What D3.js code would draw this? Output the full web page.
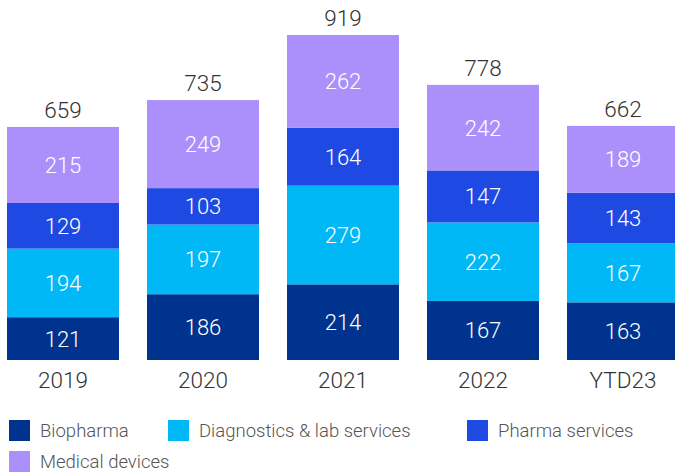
<!DOCTYPE html>
<html><head><meta charset="utf-8">
<script src="https://cdn.jsdelivr.net/npm/d3@7"></script>
<style>html,body{margin:0;padding:0;background:#fff;}svg{display:block;font-family:Roboto,"Liberation Sans",Arial,sans-serif;font-weight:300;}</style>
</head><body>
<svg id="c" width="675" height="475"></svg>
<script>
const categories = ["2019","2020","2021","2022","YTD23"];
const seriesNames = ["Biopharma","Diagnostics & lab services","Pharma services","Medical devices"];
const biopharma = [121,186,214,167,163];
const diagnostics = [194,197,279,222,167];
const pharmaServices = [129,103,164,147,143];
const medicalDevices = [215,249,262,242,189];
const totals = [659,735,919,778,662];
const colors = ["#00338D","#00B8F5","#1E49E2","#AB8FFB"];

const svg = d3.select("#c");
const rows = categories.map((c,i)=>({cat:c, "Biopharma":biopharma[i], "Diagnostics & lab services":diagnostics[i], "Pharma services":pharmaServices[i], "Medical devices":medicalDevices[i], total:totals[i]}));
const stack = d3.stack().keys(seriesNames)(rows);

const x = d3.scaleBand().domain(categories).range([-7,693]).paddingInner(0.2).paddingOuter(0.1);
const y = d3.scaleLinear().domain([0,919]).range([360,35]);
const color = d3.scaleOrdinal().domain(seriesNames).range(colors);

const g = svg.append("g");
stack.forEach(layer=>{
  const lg = g.append("g");
  lg.selectAll("rect").data(layer).join("rect")
    .attr("x",d=>x(d.data.cat)).attr("width",x.bandwidth())
    .attr("y",d=>y(d[1])).attr("height",d=>y(d[0])-y(d[1]))
    .attr("fill",color(layer.key));
  lg.selectAll("text").data(layer).join("text")
    .attr("x",d=>x(d.data.cat)+x.bandwidth()/2)
    .attr("y",d=>(y(d[0])+y(d[1]))/2)
    .attr("dy","0.36em").attr("text-anchor","middle")
    .attr("fill","#fff").attr("font-size",22)
    .text(d=>d[1]-d[0]);
});
g.selectAll(".tot").data(rows).join("text").attr("class","tot")
  .attr("x",d=>x(d.cat)+x.bandwidth()/2).attr("y",d=>y(d.total)-9)
  .attr("text-anchor","middle").attr("fill","#333").attr("font-size",22.5)
  .text(d=>d.total);

const ax = svg.append("g").attr("transform","translate(0,360)")
  .call(d3.axisBottom(x).tickSize(0).tickPadding(12));
ax.attr("font-family",null).attr("font-size",null);
ax.select(".domain").remove();
ax.selectAll("text").attr("font-size",22.5).attr("fill","#333");

const legendPos = [[9,420],[168,420],[467,420],[9,451]];
const lg = svg.append("g");
seriesNames.forEach((s,i)=>{
  const [lx,ly]=legendPos[i];
  lg.append("rect").attr("x",lx).attr("y",ly).attr("width",21).attr("height",21).attr("fill",colors[i]);
  lg.append("text").attr("x",lx+31).attr("y",ly+10.5).attr("dy","0.36em")
    .attr("font-size",18.5).attr("fill","#555").text(s);
});
</script>
</body></html>
